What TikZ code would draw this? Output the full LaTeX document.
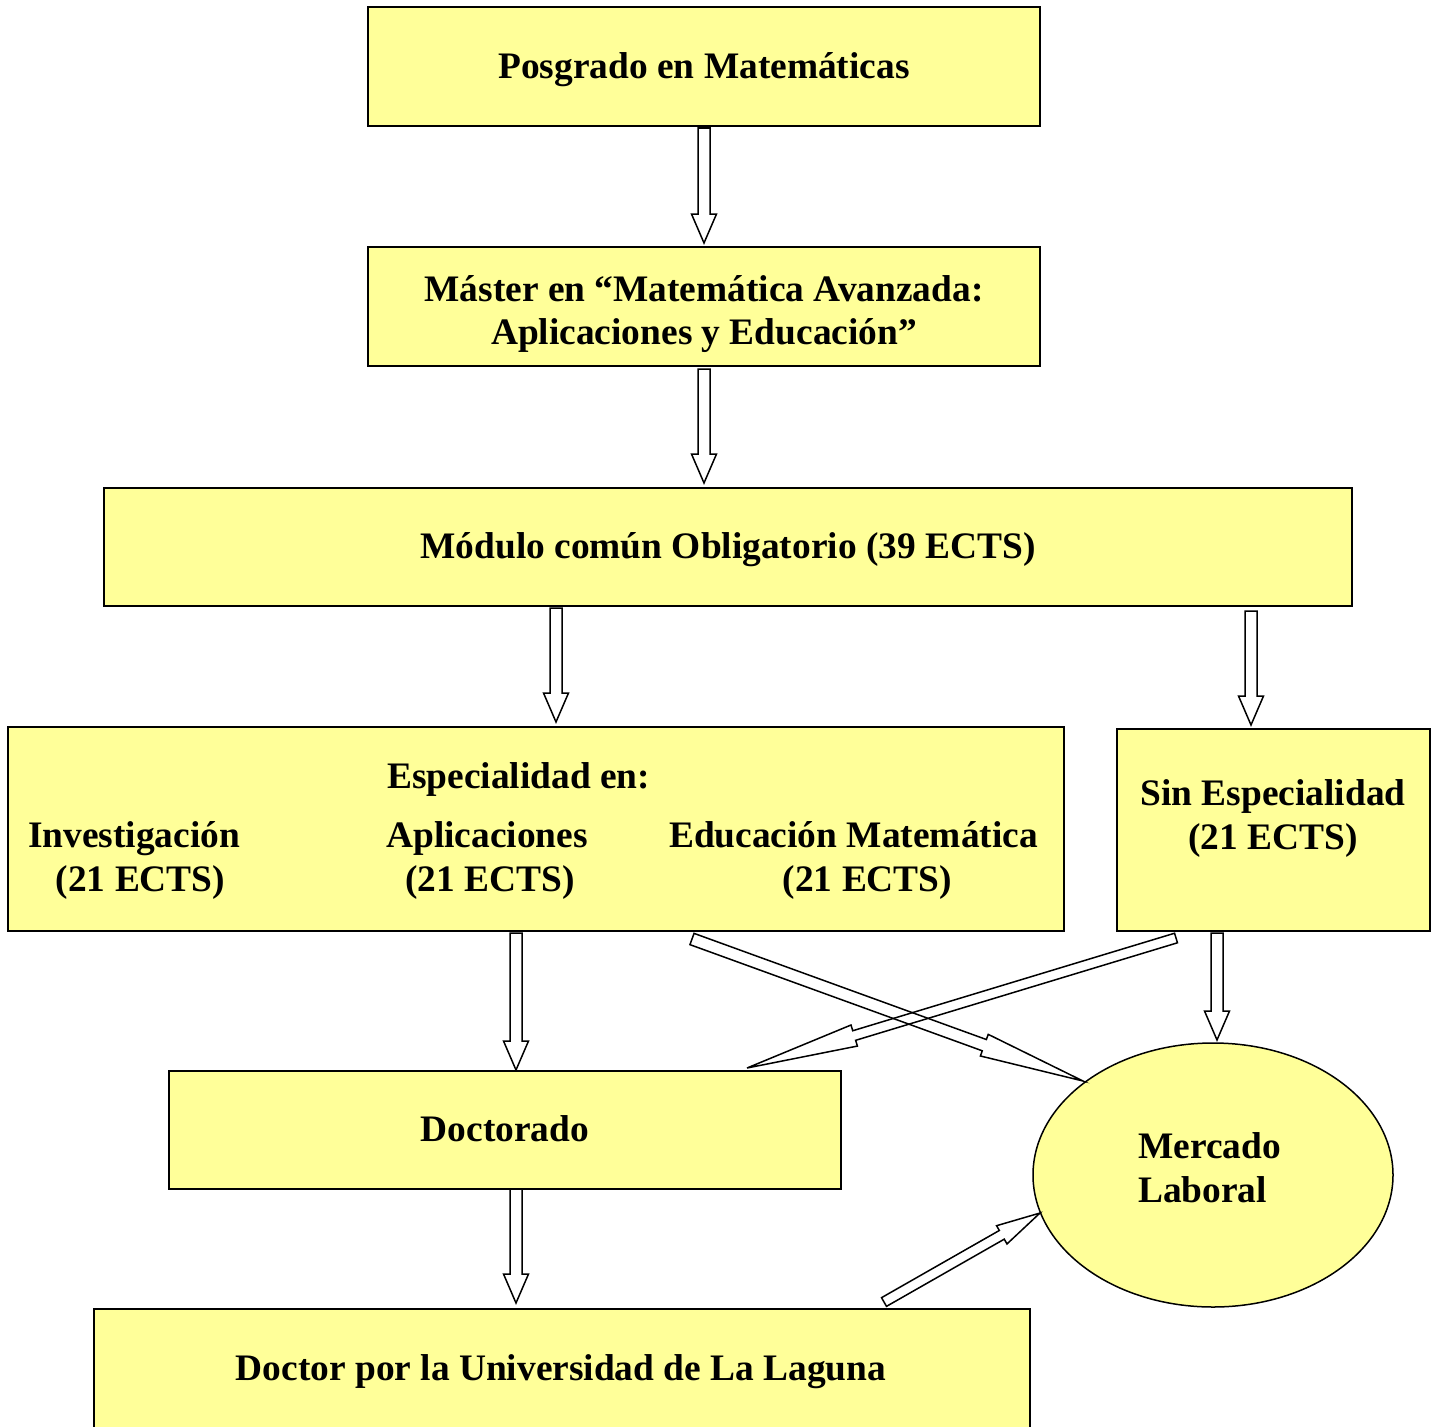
\documentclass[tikz,border=0pt]{standalone}
\usepackage{fontspec}
\setmainfont{Liberation Serif}
\usetikzlibrary{calc,shapes.geometric}
\definecolor{boxyellow}{HTML}{FFFF99}
% #1 start, #2 end, #3 half shaft, #4 half head, #5 head length
\newcommand{\blockarr}[5]{%
  \coordinate (hb) at ($(#2)!#5pt!(#1)$);
  \draw[arrowbox] ($(#1)!#3pt!90:(#2)$) -- ($(hb)!#3pt!90:(#2)$) -- ($(hb)!#4pt!90:(#2)$) -- (#2)
     -- ($(hb)!#4pt!-90:(#2)$) -- ($(hb)!#3pt!-90:(#2)$) -- ($(#1)!#3pt!-90:(#2)$) -- cycle;}
\tikzset{
  box/.style={draw=black, line width=1.5pt, fill=boxyellow, inner sep=0pt},
  arrowbox/.style={draw=black, line width=1.5pt, line join=miter},
  lbl/.style={inner sep=0pt, font=\fontsize{37.4}{43}\selectfont\bfseries, text height=0.9em, text depth=0.25em, yshift=-9pt}
}
\begin{document}
\begin{tikzpicture}[x=1pt,y=-1pt]
\clip (0,0) rectangle (1439,1426);
\fill[white] (0,0) rectangle (1439,1426);

% boxes
\node[box, minimum width=672pt, minimum height=119pt] (posg) at (704,66.5) {};
\node[box, minimum width=672pt, minimum height=119pt] (master) at (704,306.5) {};
\node[box, minimum width=1248pt, minimum height=118pt] (modulo) at (728,547) {};
\node[box, minimum width=1056pt, minimum height=204pt] (espec) at (536,829) {};
\node[box, minimum width=313pt, minimum height=202pt] (sinesp) at (1273.5,830) {};
\node[box, minimum width=672pt, minimum height=118pt] (doct) at (505,1130) {};
\node[box, ellipse, minimum width=360pt, minimum height=264pt] (merc) at (1213,1175) {};
\node[box, minimum width=936pt, minimum height=119pt] (doctor) at (562,1368.5) {};

% texts
\node[lbl] (posgtxt) at (704,66) {Posgrado en Matemáticas};
\node[lbl] (master1) at (704,289) {Máster en “Matemática Avanzada:};
\node[lbl] (master2) at (704,332) {Aplicaciones y Educación”};
\node[lbl] (modtxt) at (728,546) {Módulo común Obligatorio (39 ECTS)};
\node[lbl, anchor=west] (esptxt) at (387,776) {Especialidad en:};
\node[lbl] (inv1) at (134,835) {Investigación};
\node[lbl] (inv2) at (140.5,879) {(21 ECTS)};
\node[lbl] (apl1) at (487,835) {Aplicaciones};
\node[lbl] (apl2) at (490,879) {(21 ECTS)};
\node[lbl] (edu1) at (853.5,835) {Educación Matemática};
\node[lbl] (edu2) at (867.5,879) {(21 ECTS)};
\node[lbl] (sin1) at (1273,793) {Sin Especialidad};
\node[lbl] (sin2) at (1273,837) {(21 ECTS)};
\node[lbl, anchor=west] (merc1) at (1138,1146) {Mercado};
\node[lbl, anchor=west] (merc2) at (1138,1190) {Laboral};
\node[lbl] (doctxt) at (505,1129) {Doctorado};
\node[lbl] (doctortxt) at (561,1368) {Doctor por la Universidad de La Laguna};

% arrow end points
\coordinate (a1s) at (704,128);  \coordinate (a1e) at (704,243);
\coordinate (a2s) at (704,369);  \coordinate (a2e) at (704,483);
\coordinate (a3s) at (556,608);  \coordinate (a3e) at (556,722);
\coordinate (a4s) at (1251,611); \coordinate (a4e) at (1251,725);
\coordinate (a5s) at (516,933);  \coordinate (a5e) at (516,1070);
\coordinate (a6s) at (1217,933); \coordinate (a6e) at (1217,1040);
\coordinate (a7s) at (516,1189); \coordinate (a7e) at (516,1303);
\coordinate (a8s) at (692,939);  \coordinate (a8e) at (1083,1081);
\coordinate (a9s) at (1176,938); \coordinate (a9e) at (747,1068);
\coordinate (a10s) at (884,1302); \coordinate (a10e) at (1040,1213);

\blockarr{a1s}{a1e}{6}{12.5}{29}
\blockarr{a2s}{a2e}{6}{12.5}{29}
\blockarr{a3s}{a3e}{6}{12.5}{29}
\blockarr{a4s}{a4e}{6}{12.5}{29}
\blockarr{a5s}{a5e}{6}{12.5}{29}
\blockarr{a6s}{a6e}{6}{12.5}{29}
\blockarr{a7s}{a7e}{6}{12.5}{29}
\blockarr{a8s}{a8e}{6}{11.5}{105}
\blockarr{a9s}{a9e}{5}{11}{112}
\blockarr{a10s}{a10e}{5}{10.5}{44}
\end{tikzpicture}
\end{document}
